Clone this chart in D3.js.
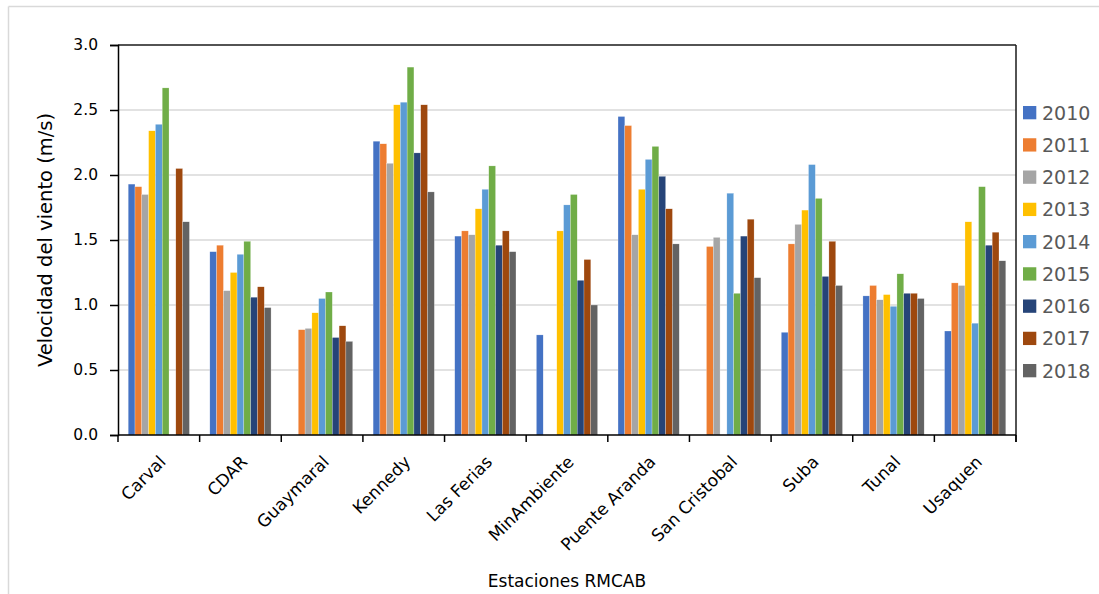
<!DOCTYPE html>
<html>
<head>
<meta charset="utf-8">
<script src="https://cdn.jsdelivr.net/npm/d3@7/dist/d3.min.js"></script>
<style>
  html, body { margin: 0; padding: 0; background: #fff; }
  svg { display: block; font-family: "DejaVu Sans", sans-serif; }
</style>
</head>
<body>
<svg id="chart" width="1099" height="594"></svg>
<script>
// Mean wind speed per RMCAB station and year (m/s); null = no data
const stations = ["Carval", "CDAR", "Guaymaral", "Kennedy", "Las Ferias", "MinAmbiente",
                  "Puente Aranda", "San Cristobal", "Suba", "Tunal", "Usaquen"];
const years = ["2010", "2011", "2012", "2013", "2014", "2015", "2016", "2017", "2018"];
const v2010 = [1.93, 1.41, null, 2.26, 1.53, 0.77, 2.45, null, 0.79, 1.07, 0.80];
const v2011 = [1.91, 1.46, 0.81, 2.24, 1.57, null, 2.38, 1.45, 1.47, 1.15, 1.17];
const v2012 = [1.85, 1.11, 0.82, 2.09, 1.54, null, 1.54, 1.52, 1.62, 1.04, 1.15];
const v2013 = [2.34, 1.25, 0.94, 2.54, 1.74, 1.57, 1.89, null, 1.73, 1.08, 1.64];
const v2014 = [2.39, 1.39, 1.05, 2.56, 1.89, 1.77, 2.12, 1.86, 2.08, 0.99, 0.86];
const v2015 = [2.67, 1.49, 1.10, 2.83, 2.07, 1.85, 2.22, 1.09, 1.82, 1.24, 1.91];
const v2016 = [null, 1.06, 0.75, 2.17, 1.46, 1.19, 1.99, 1.53, 1.22, 1.09, 1.46];
const v2017 = [2.05, 1.14, 0.84, 2.54, 1.57, 1.35, 1.74, 1.66, 1.49, 1.09, 1.56];
const v2018 = [1.64, 0.98, 0.72, 1.87, 1.41, 1.00, 1.47, 1.21, 1.15, 1.05, 1.34];
const yTicks = [0, 0.5, 1.0, 1.5, 2.0, 2.5, 3.0];
const colors = ["#4472C4", "#ED7D31", "#A5A5A5", "#FFC000", "#5B9BD5",
                "#70AD47", "#264478", "#9E480E", "#636363"];

const seriesValues = [v2010, v2011, v2012, v2013, v2014, v2015, v2016, v2017, v2018];
const series = years.map((y, i) => ({ year: y, color: colors[i], values: seriesValues[i] }));

const svg = d3.select("#chart");
const plot = { left: 118, right: 1016, top: 45, bottom: 435 };

// outer chart frame (top and left edges)
svg.append("line").attr("x1", 8.5).attr("x2", 1099).attr("y1", 6.5).attr("y2", 6.5)
  .attr("stroke", "#d9d9d9").attr("stroke-width", 1.5);
svg.append("line").attr("x1", 8.5).attr("x2", 8.5).attr("y1", 6.5).attr("y2", 594)
  .attr("stroke", "#d9d9d9").attr("stroke-width", 1.5);

const x0 = d3.scaleBand().domain(stations).range([plot.left, plot.right]).padding(0);
const bw = x0.bandwidth();
const barW = bw / 12;
const x1 = d3.scaleBand().domain(years).range([1.5 * barW, bw - 1.5 * barW]).padding(0);
const y = d3.scaleLinear().domain([0, 3]).range([plot.bottom, plot.top]);

// gridlines
svg.append("g").selectAll("line").data(yTicks.filter(t => t > 0 && t < 3)).join("line")
  .attr("x1", plot.left).attr("x2", plot.right)
  .attr("y1", d => y(d)).attr("y2", d => y(d))
  .attr("stroke", "#d9d9d9").attr("stroke-width", 1.5);

// bars
const groups = svg.append("g").selectAll("g").data(series).join("g")
  .attr("fill", d => d.color);
groups.selectAll("rect")
  .data(d => d.values.map((v, i) => ({ station: stations[i], year: d.year, v })).filter(e => e.v != null))
  .join("rect")
  .attr("x", d => x0(d.station) + x1(d.year))
  .attr("width", x1.bandwidth())
  .attr("y", d => y(d.v))
  .attr("height", d => y(0) - y(d.v))
  .attr("stroke", "#ffffff").attr("stroke-width", 0.4).attr("stroke-opacity", 0.6);

// plot frame top / right
svg.append("line").attr("x1", plot.left).attr("x2", plot.right).attr("y1", plot.top).attr("y2", plot.top)
  .attr("stroke", "#1a1a1a").attr("stroke-width", 1.5);
svg.append("line").attr("x1", plot.right).attr("x2", plot.right).attr("y1", plot.top).attr("y2", plot.bottom + 7)
  .attr("stroke", "#1a1a1a").attr("stroke-width", 1.5);

// y axis
const yAxis = svg.append("g").attr("transform", `translate(${plot.left},0)`)
  .call(d3.axisLeft(y).tickValues(yTicks).tickFormat(d3.format(".1f")).tickSizeOuter(0).tickSize(8).tickPadding(12));
yAxis.select(".domain").attr("stroke", "#000").attr("stroke-width", 1.5);
yAxis.selectAll(".tick line").attr("stroke", "#000").attr("stroke-width", 1.5);
yAxis.selectAll(".tick text").attr("font-size", 15.5).attr("fill", "#000")
  .attr("font-family", "'DejaVu Sans', sans-serif");

// x axis: ticks at category boundaries
const xg = svg.append("g");
xg.append("line").attr("x1", plot.left).attr("x2", plot.right).attr("y1", plot.bottom).attr("y2", plot.bottom)
  .attr("stroke", "#000").attr("stroke-width", 1.5);
const bounds = stations.map(s => x0(s)).concat([plot.right]);
xg.selectAll("line.tk").data(bounds).join("line").attr("class", "tk")
  .attr("x1", d => d).attr("x2", d => d).attr("y1", plot.bottom).attr("y2", plot.bottom + 7)
  .attr("stroke", "#000").attr("stroke-width", 1.5);
xg.selectAll("text").data(stations).join("text")
  .attr("transform", d => `translate(${x0(d) + bw / 2 + 8},${plot.bottom + 28}) rotate(-45)`)
  .attr("text-anchor", "end")
  .attr("font-size", 17).attr("fill", "#000")
  .text(d => d);

// axis titles
svg.append("text")
  .attr("transform", `translate(45,${(plot.top + plot.bottom) / 2}) rotate(-90)`)
  .attr("text-anchor", "middle").attr("dy", "0.35em").attr("font-size", 19.5).attr("fill", "#000")
  .text("Velocidad del viento (m/s)");
svg.append("text")
  .attr("x", (plot.left + plot.right) / 2).attr("y", 587)
  .attr("text-anchor", "middle").attr("font-size", 17).attr("fill", "#000")
  .text("Estaciones RMCAB");

// legend
const legend = svg.append("g").selectAll("g").data(series).join("g")
  .attr("transform", (d, i) => `translate(1023,${112.7 + i * 32.25})`);
legend.append("rect").attr("x", 0).attr("y", -6.7).attr("width", 13.3).attr("height", 13.3)
  .attr("fill", d => d.color);
legend.append("text").attr("x", 19).attr("y", 0).attr("dy", "0.36em")
  .attr("font-size", 19).attr("fill", "#595959")
  .text(d => d.year);
</script>
</body>
</html>
